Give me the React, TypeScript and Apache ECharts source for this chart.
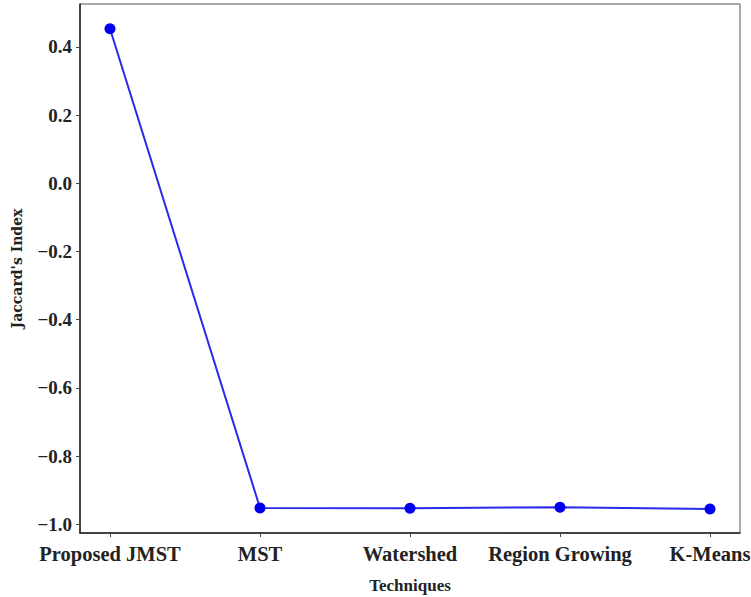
import React, { useEffect, useRef } from "react";
import * as echarts from "echarts";

const categories = ["Proposed JMST", "MST", "Watershed", "Region Growing", "K-Means"];
const jaccardValues = [0.453, -0.952, -0.953, -0.950, -0.955];
const yTicks = [-1.0, -0.8, -0.6, -0.4, -0.2, 0.0, 0.2, 0.4];

const FONT = "'Liberation Serif', 'Times New Roman', serif";

export default function App() {
  const ref = useRef<HTMLDivElement>(null);
  useEffect(() => {
    document.body.style.margin = "0";
    const chart = echarts.init(ref.current!, null, { renderer: "svg" });
    const xIdx = categories.map((_, i) => i);
    chart.setOption({
      animation: false,
      backgroundColor: "#ffffff",
      grid: {
        left: 80,
        right: 11,
        top: 4,
        bottom: 64,
        outerBoundsMode: "none",
        containLabel: false,
        show: true,
        borderColor: "#555",
        borderWidth: 1,
        backgroundColor: "transparent",
      },
      xAxis: {
        type: "value",
        min: -0.2,
        max: 4.2,
        name: "Techniques",
        nameLocation: "middle",
        nameGap: 44,
        nameTextStyle: { fontFamily: FONT, fontWeight: "bold", fontSize: 17, color: "#222" },
        splitLine: { show: false },
        axisLine: { show: true, onZero: false, lineStyle: { color: "#222", width: 1.5 } },
        axisTick: { show: true, customValues: xIdx, length: 4, lineStyle: { color: "#444" } },
        axisLabel: {
          customValues: xIdx,
          formatter: (v: number) => categories[Math.round(v)] ?? "",
          fontFamily: FONT,
          fontWeight: "bold",
          fontSize: 20.5,
          color: "#222",
          margin: 10,
        },
      },
      yAxis: {
        type: "value",
        min: -1.0255,
        max: 0.5255,
        name: "Jaccard's Index",
        nameLocation: "middle",
        nameGap: 56,
        nameRotate: 90,
        nameTextStyle: { fontFamily: "'DejaVu Serif', serif", fontWeight: "bold", fontSize: 14, color: "#222" },
        splitLine: { show: false },
        axisLine: { show: true, onZero: false, lineStyle: { color: "#222", width: 1.5 } },
        axisTick: { show: true, customValues: yTicks, length: 4, lineStyle: { color: "#444" } },
        axisLabel: {
          customValues: yTicks,
          formatter: (v: number) => {
            const s = Math.abs(v).toFixed(1);
            return v < -1e-9 ? "\u2212" + s : s;
          },
          fontFamily: FONT,
          fontWeight: "bold",
          fontSize: 19,
          color: "#222",
          margin: 8,
        },
      },
      series: [
        {
          type: "line",
          data: jaccardValues.map((v, i) => [i, v]),
          symbol: "circle",
          symbolSize: 11,
          itemStyle: { color: "#0000ee" },
          lineStyle: { color: "#2a2aee", width: 2 },
        },
      ],
    });
    return () => chart.dispose();
  }, []);
  return <div ref={ref} style={{ position: "absolute", left: 0, top: 0, width: 751, height: 597 }} />;
}
